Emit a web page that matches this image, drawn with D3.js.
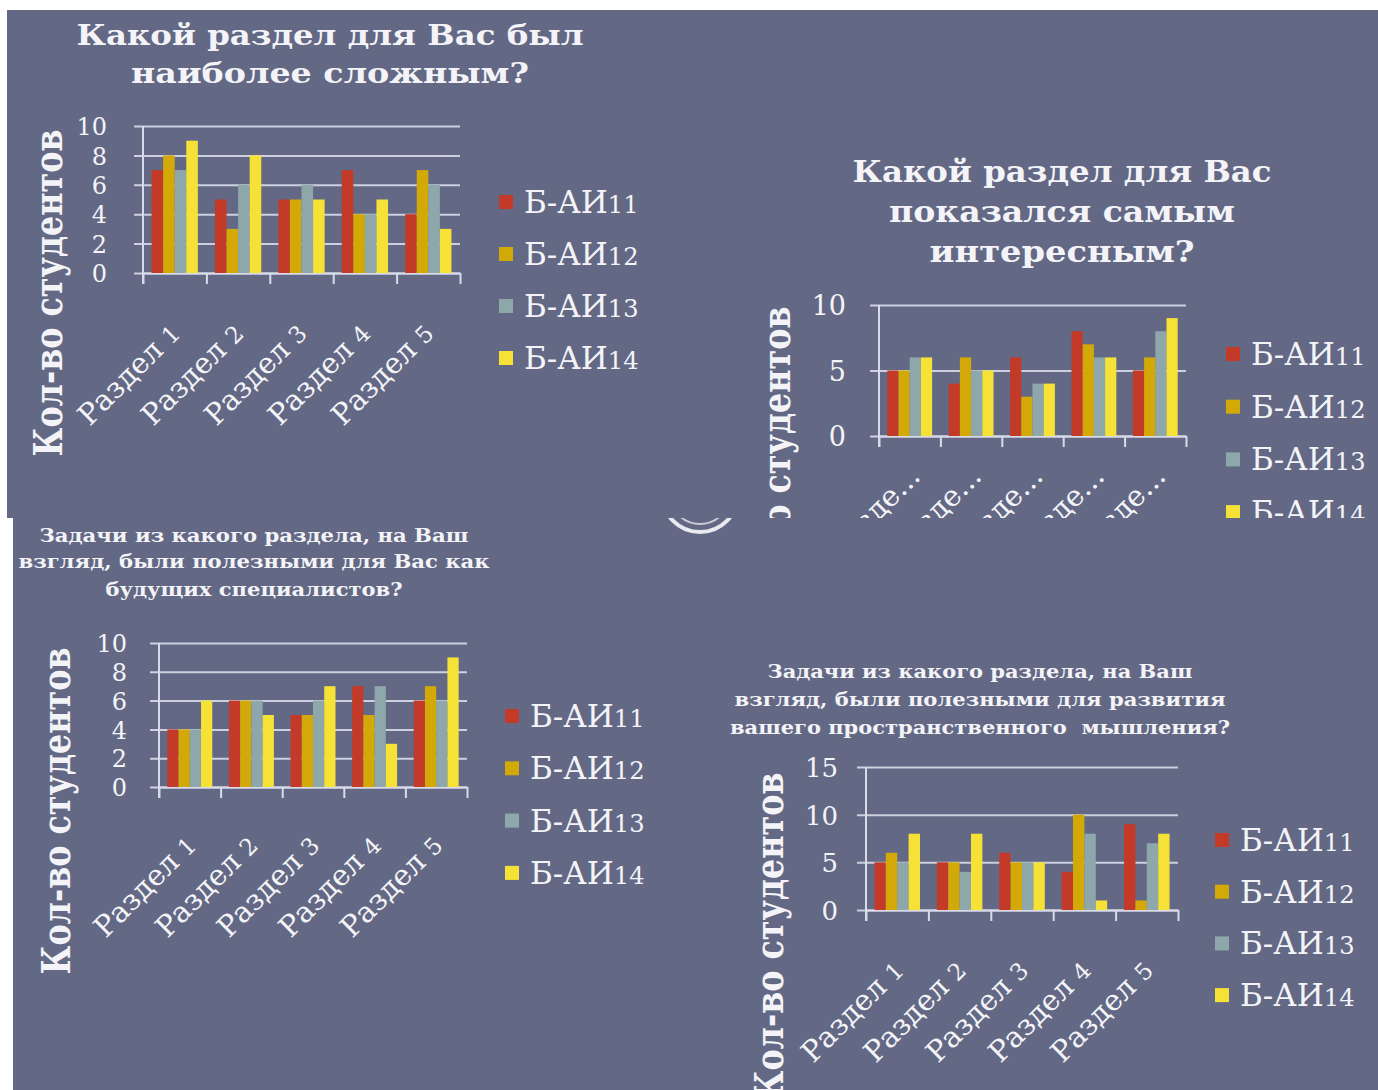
<!DOCTYPE html>
<html><head><meta charset="utf-8">
<script src="https://cdn.jsdelivr.net/npm/d3@7"></script>
<style>
html,body{margin:0;padding:0;background:#fff;}
svg{display:block;}
text{font-family:"DejaVu Serif",serif;fill:#f4f4f8;white-space:pre;}
</style></head><body>
<svg id="chart" width="1378" height="1090"></svg>
<script>
// Survey answers: how many students of each group picked each section.
const sections = ["Раздел 1", "Раздел 2", "Раздел 3", "Раздел 4", "Раздел 5"];
const sectionsCut = ["Разде...", "Разде...", "Разде...", "Разде...", "Разде..."];
const groups = ["Б-АИ11", "Б-АИ12", "Б-АИ13", "Б-АИ14"];
const groupColors = ["#c33b28", "#d3a907", "#8ea7ab", "#f6e237"];

// one row per section, one value per group (Б-АИ11 … Б-АИ14)
const hardest = [[7, 8, 7, 9], [5, 3, 6, 8], [5, 5, 6, 5], [7, 4, 4, 5], [4, 7, 6, 3]];
const interesting = [[5, 5, 6, 6], [4, 6, 5, 5], [6, 3, 4, 4], [8, 7, 6, 6], [5, 6, 8, 9]];
const usefulCareer = [[4, 4, 4, 6], [6, 6, 6, 5], [5, 5, 6, 7], [7, 5, 7, 3], [6, 7, 6, 9]];
const usefulSpatial = [[5, 6, 5, 8], [5, 5, 4, 8], [6, 5, 5, 5], [4, 10, 8, 1], [9, 1, 7, 8]];

const ticksTenByTwo = [0, 2, 4, 6, 8, 10];
const ticksTenByFive = [0, 5, 10];
const ticksFifteen = [0, 5, 10, 15];

const titleHardest = ["Какой раздел для Вас был", "наиболее сложным?"];
const titleInteresting = ["Какой раздел для Вас", "показался самым", "интересным?"];
const titleCareer = ["Задачи из какого раздела, на Ваш", "взгляд, были полезными для Вас как", "будущих специалистов?"];
const titleSpatial = ["Задачи из какого раздела, на Ваш", "взгляд, были полезными для развития", "вашего пространственного  мышления?"];
const axisTitle = "Кол-во студентов";

const BG = "#636985";
const GRID = "#d9dbea";

const svg = d3.select("#chart");
const defs = svg.append("defs");

// two slide panels
const panels = [
  {x: 7, y: 10, w: 1371, h: 508},
  {x: 13, y: 518, w: 1365, h: 572}
];
panels.forEach((p, i) => {
  defs.append("clipPath").attr("id", "panel" + i)
    .append("rect").attr("x", p.x).attr("y", p.y).attr("width", p.w).attr("height", p.h);
  svg.append("rect").attr("x", p.x).attr("y", p.y).attr("width", p.w).attr("height", p.h).attr("fill", BG);
});

// small emblem ring peeking out at the top of the lower panel
const emblem = svg.append("g").attr("clip-path", "url(#panel1)");
emblem.append("circle").attr("cx", 700).attr("cy", 494).attr("r", 38)
  .attr("fill", "none").attr("stroke", "#e9e9ef").attr("stroke-width", 4);
emblem.append("circle").attr("cx", 700).attr("cy", 494).attr("r", 30)
  .attr("fill", "none").attr("stroke", "#c9cbd8").attr("stroke-width", 2);

// writes a label with its digits set smaller, like old-style figures
function digitsSmall(textSel, str, scale) {
  (str.match(/\d+|\D+/g) || []).forEach(part => {
    const t = textSel.append("tspan").text(part);
    if (/\d/.test(part)) t.attr("font-size", (scale * 100) + "%");
  });
}

const charts = [
  { panel: 0, values: hardest, labels: sections, ticks: ticksTenByTwo, max: 10, title: titleHardest,
    plot: {left: 143, right: 460, bottom: 273, top: 126},
    head: {x: 330, ys: [45, 83], size: 28, widths: [507, 398]},
    yLab: {right: 107, size: 24}, yTitle: {x: 62, y: 293},
    cat: {dx: 7, dy: 62},
    legend: {x: 499, y: 202, step: 52} },
  { panel: 0, values: interesting, labels: sectionsCut, ticks: ticksTenByFive, max: 10, title: titleInteresting,
    plot: {left: 879, right: 1186, bottom: 436, top: 305},
    head: {x: 1062, ys: [182, 222, 262], size: 29, widths: [419, 346, 265]},
    yLab: {right: 846, size: 27}, yTitle: {x: 790, y: 470},
    cat: {dx: 12, dy: 42},
    legend: {x: 1226, y: 354, step: 52.7} },
  { panel: 1, values: usefulCareer, labels: sections, ticks: ticksTenByTwo, max: 10, title: titleCareer,
    plot: {left: 159, right: 467, bottom: 787, top: 643},
    head: {x: 254, ys: [542, 568, 596], size: 19, widths: [429, 471, 297]},
    yLab: {right: 127, size: 24}, yTitle: {x: 70, y: 811},
    cat: {dx: 8, dy: 60},
    legend: {x: 505, y: 716, step: 52.3} },
  { panel: 1, values: usefulSpatial, labels: sections, ticks: ticksFifteen, max: 15, title: titleSpatial,
    plot: {left: 866, right: 1178, bottom: 910, top: 767},
    head: {x: 980, ys: [678, 706, 734], size: 19, widths: [425, 491, 500]},
    yLab: {right: 838, size: 26}, yTitle: {x: 783, y: 936},
    cat: {dx: 8, dy: 62},
    legend: {x: 1215, y: 840, step: 51.7} }
];

function drawChart(c) {
  const g = svg.append("g").attr("clip-path", `url(#panel${c.panel})`);
  const p = c.plot;
  const n = c.labels.length;

  const x = d3.scaleBand().domain(d3.range(n)).range([p.left, p.right])
    .paddingInner(0.27).paddingOuter(0.135);
  const xInner = d3.scaleBand().domain(groups).range([0, x.bandwidth()]).padding(0);
  const xEdge = d3.scaleLinear().domain([0, n]).range([p.left, p.right]);
  const y = d3.scaleLinear().domain([0, c.max]).range([p.bottom, p.top]);

  // title
  c.title.forEach((line, i) => {
    g.append("text").attr("x", c.head.x).attr("y", c.head.ys[i])
      .attr("text-anchor", "middle").attr("font-weight", "bold")
      .attr("font-size", c.head.size)
      .attr("textLength", c.head.widths[i]).attr("lengthAdjust", "spacingAndGlyphs")
      .text(line);
  });

  // value axis with gridlines
  const tickOut = 9;
  const yAxis = d3.axisLeft(y).tickValues(c.ticks)
    .tickSize(-(p.right - p.left + tickOut))
    .tickPadding(p.left - tickOut - c.yLab.right)
    .tickFormat(d3.format("d"));
  const ya = g.append("g").attr("transform", `translate(${p.left - tickOut},0)`).call(yAxis);
  ya.select(".domain").remove();
  ya.selectAll(".tick line").attr("stroke", GRID).attr("stroke-width", 2).attr("opacity", 0.9);
  ya.selectAll(".tick text").attr("fill", "#f2f2f7").attr("font-size", c.yLab.size)
    .attr("font-family", "DejaVu Serif").attr("dy", "0.36em");

  // category axis: baseline and boundary ticks
  const xAxis = d3.axisBottom(xEdge).tickValues(d3.range(n + 1)).tickSize(11).tickFormat("").tickSizeOuter(0);
  const xa = g.append("g").attr("transform", `translate(0,${p.bottom})`).call(xAxis);
  xa.select(".domain").attr("stroke", GRID).attr("stroke-width", 2);
  xa.selectAll(".tick line").attr("stroke", GRID).attr("stroke-width", 2);

  // vertical axis line
  g.append("line").attr("x1", p.left).attr("x2", p.left)
    .attr("y1", y(c.max)).attr("y2", p.bottom + 11)
    .attr("stroke", GRID).attr("stroke-width", 2);

  // bars
  const rows = g.append("g").selectAll("g").data(c.values).join("g")
    .attr("transform", (d, i) => `translate(${x(i)},0)`);
  rows.selectAll("rect").data(d => d.map((v, j) => ({v, j}))).join("rect")
    .attr("x", d => xInner(groups[d.j]))
    .attr("width", xInner.bandwidth())
    .attr("y", d => y(d.v))
    .attr("height", d => y(0) - y(d.v))
    .attr("fill", d => groupColors[d.j]);

  // rotated category labels
  c.labels.forEach((lab, i) => {
    const cx = x(i) + x.bandwidth() / 2;
    const t = g.append("text").attr("text-anchor", "end").attr("font-size", 29)
      .attr("transform", `translate(${cx + c.cat.dx},${p.bottom + c.cat.dy}) rotate(-45)`);
    digitsSmall(t, lab, 0.8);
  });

  // value axis title
  g.append("text").attr("transform", `translate(${c.yTitle.x},${c.yTitle.y}) rotate(-90)`)
    .attr("text-anchor", "middle").attr("font-weight", "bold").attr("font-size", 40)
    .attr("textLength", 327).attr("lengthAdjust", "spacingAndGlyphs")
    .text(axisTitle);

  // legend
  groups.forEach((name, j) => {
    const ly = c.legend.y + j * c.legend.step;
    g.append("rect").attr("x", c.legend.x).attr("y", ly - 7).attr("width", 14).attr("height", 14)
      .attr("fill", groupColors[j]);
    const t = g.append("text").attr("x", c.legend.x + 25).attr("y", ly + 11).attr("font-size", 31);
    digitsSmall(t, name, 0.78);
  });
}

charts.forEach(drawChart);
</script>
</body></html>
